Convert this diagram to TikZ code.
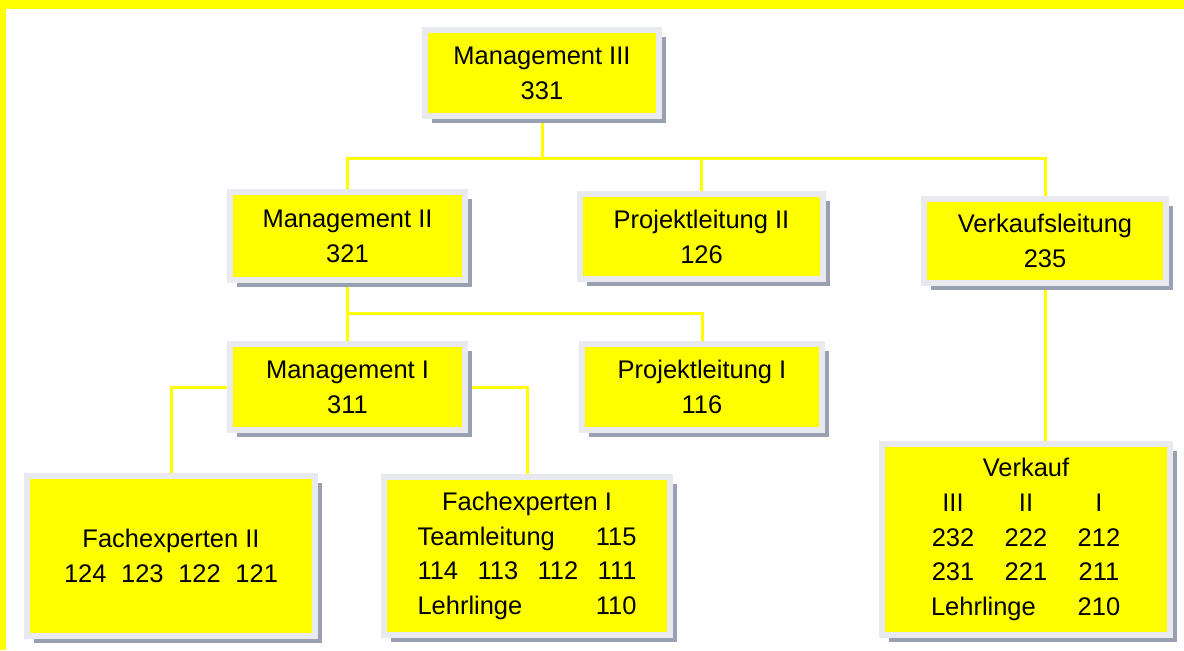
\documentclass[tikz,border=0pt]{standalone}
\usepackage{fontspec}
\setmainfont{Liberation Sans}
\usepackage{xcolor}
\usetikzlibrary{shadows,backgrounds}

\definecolor{boxyellow}{RGB}{255,255,0}
\definecolor{framegrey}{RGB}{232,234,239}
\definecolor{shadowgrey}{RGB}{152,160,178}

\newcommand{\vcol}[1]{\makebox[1.46cm]{#1}}

\begin{document}
\begin{tikzpicture}[x=0.02cm, y=-0.02cm,
  unit/.style 2 args={draw=framegrey, line width=0.12cm, fill=boxyellow,
    minimum width={(#1+6)*0.02cm}, minimum height={(#2+6)*0.02cm},
    inner sep=0pt, align=center,
    font={\fontsize{14.5}{19.8}\selectfont},
    drop shadow={shadow xshift=0.14cm, shadow yshift=-0.14cm,
      fill=shadowgrey, opacity=1}},
  link/.style={draw=boxyellow, line width=0.06cm}]
  \useasboundingbox (0,0) rectangle (1184,650);

  % Top level
  \node[unit={228}{80}] (m3) at (542,73) {Management III\\331};

  % Second level
  \node[unit={229}{82}] (m2) at (347.5,236) {Management II\\321};
  \node[unit={237}{79}] (pl2) at (701.5,236.5) {Projektleitung II\\126};
  \node[unit={236}{78}] (vl) at (1045,241) {Verkaufsleitung\\235};

  % Third level
  \node[unit={229}{80}] (m1) at (347.5,387) {Management I\\311};
  \node[unit={234}{80}] (pl1) at (702,387) {Projektleitung I\\116};

  % Bottom level
  \node[unit={282}{154}] (fe2) at (171,556)
    {Fachexperten II\\\makebox[4.28cm]{124\hfill 123\hfill 122\hfill 121}};
  \node[unit={280}{152}] (fe1) at (527,556)
    {Fachexperten I\\
     \makebox[4.38cm]{Teamleitung\hfill 115}\\
     \makebox[4.38cm]{114\hfill 113\hfill 112\hfill 111}\\
     \makebox[4.38cm]{Lehrlinge\hfill 110}};
  \node[unit={282}{185}] (vk) at (1026,539.5)
    {Verkauf\\
     \vcol{III}\vcol{II}\vcol{I}\\
     \vcol{232}\vcol{222}\vcol{212}\\
     \vcol{231}\vcol{221}\vcol{211}\\
     \makebox[2.92cm][l]{\hspace{0.29cm}Lehrlinge}\vcol{210}};

  \begin{scope}[on background layer]
    % Page with yellow edge
    \fill[white] (0,0) rectangle (1184,650);
    \fill[boxyellow] (0,0) rectangle (1184,9);
    \fill[boxyellow] (0,0) rectangle (6,650);

    % Connectors
    \coordinate (bus) at (0,158);
    \coordinate (bus2) at (0,313);
    \draw[link] (m3.south) -- (m3.south |- bus);
    \draw[link] (m2.north) -- (m2.north |- bus) -| (vl.north);
    \draw[link] (pl2.north) -- (pl2.north |- bus);
    \draw[link] (m2.south) -- (m1.north);
    \draw[link] (m2.south |- bus2) -| (pl1.north);
    \draw[link] (m1.west) -| (fe2.north);
    \draw[link] (m1.east) -| (fe1.north);
    \draw[link] (vl.south) -- (vl.south |- vk.north);
  \end{scope}
\end{tikzpicture}
\end{document}
